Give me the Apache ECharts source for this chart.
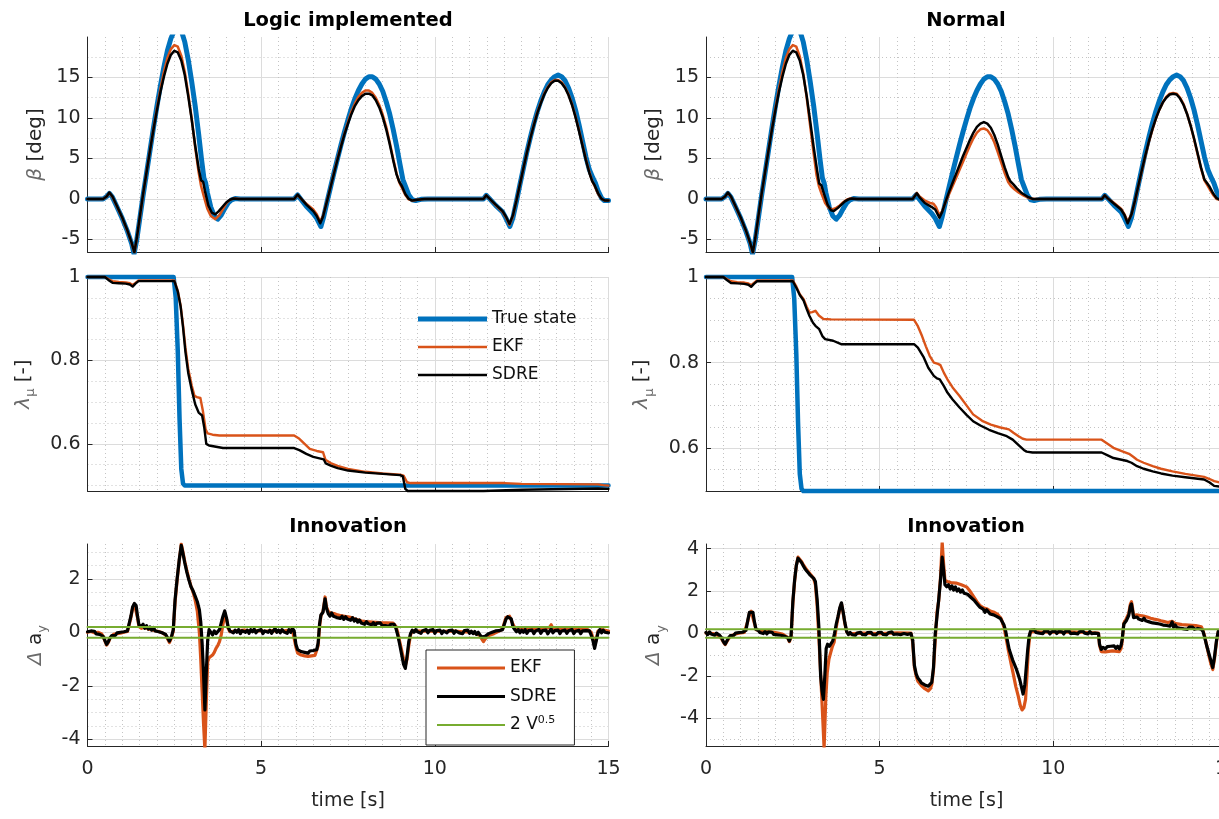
<!DOCTYPE html>
<html>
<head>
<meta charset="utf-8">
<title>Logic implemented vs Normal</title>
<script src="https://cdn.jsdelivr.net/npm/echarts@6/dist/echarts.min.js"></script>
<style>
  html, body { margin: 0; padding: 0; background: #ffffff; }
  #chart { width: 1219px; height: 819px; }
</style>
</head>
<body>
<div id="chart"></div>
<script>
// ---------- side slip angle beta [deg], pairs of [time s, value] ----------
const betaTrue = [[0,0],[0.45,0],[0.55,0.3],[0.63,0.7],[0.72,0.2],[0.85,-1.0],[1.0,-2.4],[1.15,-4.0],[1.27,-5.5],[1.34,-6.8],[1.42,-5.0],[1.5,-2.6],[1.6,0.4],[1.7,3.2],[1.8,6.0],[1.9,8.8],[2.0,11.5],[2.1,14.0],[2.2,16.3],[2.3,18.3],[2.4,19.8],[2.5,20.8],[2.6,21.2],[2.7,20.8],[2.8,19.4],[2.9,17.2],[3.0,14.5],[3.1,11.5],[3.2,8.0],[3.28,5.0],[3.35,2.6],[3.4,2.0],[3.45,0.8],[3.55,-1.0],[3.65,-2.1],[3.75,-2.5],[3.85,-2.0],[3.95,-1.2],[4.05,-0.5],[4.15,-0.1],[4.25,0.05],[4.4,0],[5.95,0],[6.05,0.5],[6.12,0.1],[6.3,-0.9],[6.5,-1.8],[6.6,-2.4],[6.72,-3.4],[6.8,-2.2],[6.9,-0.3],[7.0,1.5],[7.1,3.3],[7.2,5.0],[7.3,6.7],[7.4,8.3],[7.5,9.8],[7.6,11.2],[7.7,12.4],[7.8,13.4],[7.9,14.2],[8.0,14.8],[8.1,15.1],[8.2,15.1],[8.3,14.8],[8.4,14.2],[8.5,13.3],[8.6,12.0],[8.7,10.5],[8.8,8.6],[8.9,6.5],[9.0,4.2],[9.08,2.4],[9.15,1.6],[9.25,0.5],[9.35,-0.1],[9.45,-0.2],[9.6,-0.05],[9.8,0],[11.4,0],[11.48,0.45],[11.56,0.1],[11.75,-0.8],[11.95,-1.6],[12.05,-2.4],[12.16,-3.4],[12.25,-2.3],[12.35,-0.3],[12.45,1.8],[12.55,3.8],[12.65,5.8],[12.75,7.6],[12.85,9.3],[12.95,10.8],[13.05,12.1],[13.15,13.2],[13.25,14.1],[13.35,14.7],[13.45,15.1],[13.55,15.3],[13.65,15.1],[13.75,14.6],[13.85,13.7],[13.95,12.5],[14.05,11.0],[14.15,9.2],[14.25,7.2],[14.35,5.2],[14.45,3.6],[14.55,2.6],[14.62,2.0],[14.7,1.0],[14.8,0.1],[14.88,-0.2],[15,-0.2]];

const betaEkfLogic = [[0,0],[0.45,0],[0.55,0.3],[0.63,0.75],[0.72,0.25],[0.85,-0.95],[1.0,-2.35],[1.15,-3.95],[1.27,-5.45],[1.35,-6.7],[1.42,-4.9],[1.5,-2.5],[1.6,0.5],[1.7,3.3],[1.8,6.0],[1.9,8.7],[2.0,11.2],[2.1,13.6],[2.2,15.7],[2.3,17.4],[2.4,18.5],[2.5,19.0],[2.6,18.8],[2.7,17.7],[2.8,15.7],[2.9,13.0],[3.0,9.9],[3.1,6.4],[3.2,3.3],[3.27,1.6],[3.35,0.3],[3.45,-1.2],[3.55,-2.1],[3.68,-2.5],[3.8,-2.0],[3.92,-1.1],[4.02,-0.4],[4.12,-0.05],[4.25,0.05],[4.4,0],[5.95,0],[6.05,0.5],[6.12,0.15],[6.3,-0.6],[6.5,-1.3],[6.6,-1.9],[6.7,-2.8],[6.78,-2.1],[6.9,-0.2],[7.0,1.5],[7.1,3.3],[7.2,5.0],[7.3,6.6],[7.4,8.1],[7.5,9.5],[7.6,10.8],[7.7,11.8],[7.8,12.6],[7.9,13.1],[8.0,13.4],[8.1,13.4],[8.2,13.1],[8.3,12.5],[8.4,11.6],[8.5,10.4],[8.6,8.9],[8.7,7.0],[8.8,5.0],[8.9,3.1],[8.98,2.0],[9.05,1.4],[9.15,0.5],[9.25,-0.05],[9.35,-0.2],[9.5,-0.1],[9.7,0],[11.4,0],[11.48,0.45],[11.56,0.1],[11.75,-0.75],[11.95,-1.6],[12.05,-2.3],[12.15,-3.2],[12.25,-2.1],[12.35,-0.2],[12.45,1.8],[12.55,3.8],[12.65,5.7],[12.75,7.5],[12.85,9.2],[12.95,10.7],[13.05,11.9],[13.15,13.0],[13.25,13.8],[13.35,14.4],[13.45,14.7],[13.55,14.7],[13.65,14.4],[13.75,13.8],[13.85,12.9],[13.95,11.7],[14.05,10.2],[14.15,8.5],[14.25,6.7],[14.35,4.9],[14.45,3.3],[14.53,2.2],[14.6,1.6],[14.7,0.6],[14.8,0],[14.9,-0.2],[15,-0.2]];

const betaSdreLogic = [[0,0],[0.45,0],[0.55,0.3],[0.63,0.8],[0.72,0.3],[0.85,-0.9],[1.0,-2.3],[1.15,-3.9],[1.27,-5.4],[1.35,-6.6],[1.42,-4.8],[1.5,-2.4],[1.6,0.6],[1.7,3.3],[1.8,6.0],[1.9,8.6],[2.0,11.0],[2.1,13.2],[2.2,15.1],[2.3,16.7],[2.4,17.8],[2.5,18.3],[2.6,18.1],[2.7,17.1],[2.8,15.3],[2.9,12.7],[3.0,9.8],[3.1,6.6],[3.2,3.8],[3.27,2.3],[3.33,2.1],[3.38,1.0],[3.48,-0.8],[3.58,-1.7],[3.68,-1.9],[3.78,-1.5],[3.9,-0.9],[4.0,-0.4],[4.1,-0.1],[4.2,0.05],[4.35,0],[5.95,0],[6.05,0.55],[6.12,0.2],[6.3,-0.7],[6.5,-1.5],[6.6,-2.1],[6.7,-3.0],[6.78,-2.2],[6.9,-0.2],[7.0,1.5],[7.1,3.2],[7.2,4.9],[7.3,6.5],[7.4,8.0],[7.5,9.3],[7.6,10.5],[7.7,11.5],[7.8,12.2],[7.9,12.7],[8.0,13.0],[8.1,13.0],[8.2,12.8],[8.3,12.2],[8.4,11.3],[8.5,10.1],[8.6,8.6],[8.7,6.8],[8.8,4.8],[8.9,3.0],[8.98,2.1],[9.05,1.6],[9.15,0.6],[9.25,0.0],[9.35,-0.2],[9.5,-0.1],[9.7,0],[11.4,0],[11.48,0.45],[11.56,0.1],[11.75,-0.7],[11.95,-1.5],[12.05,-2.2],[12.15,-3.1],[12.25,-2.0],[12.35,-0.2],[12.45,1.8],[12.55,3.8],[12.65,5.7],[12.75,7.5],[12.85,9.1],[12.95,10.6],[13.05,11.8],[13.15,12.9],[13.25,13.7],[13.35,14.3],[13.45,14.6],[13.55,14.6],[13.65,14.3],[13.75,13.7],[13.85,12.8],[13.95,11.6],[14.05,10.1],[14.15,8.4],[14.25,6.6],[14.35,4.8],[14.45,3.2],[14.53,2.2],[14.6,1.7],[14.7,0.7],[14.8,0],[14.9,-0.2],[15,-0.2]];

const betaEkfNormal = [[0,0],[0.45,0],[0.55,0.3],[0.63,0.75],[0.72,0.25],[0.85,-0.95],[1.0,-2.35],[1.15,-3.95],[1.27,-5.45],[1.35,-6.7],[1.42,-4.9],[1.5,-2.5],[1.6,0.5],[1.7,3.3],[1.8,6.0],[1.9,8.7],[2.0,11.2],[2.1,13.6],[2.2,15.7],[2.3,17.4],[2.4,18.5],[2.5,19.0],[2.6,18.8],[2.7,17.6],[2.8,15.5],[2.9,12.5],[3.0,9.0],[3.1,5.6],[3.18,3.0],[3.25,1.6],[3.33,0.6],[3.43,-0.5],[3.53,-1.1],[3.63,-1.3],[3.75,-1.1],[3.85,-0.8],[3.95,-0.4],[4.05,-0.1],[4.15,0.05],[4.3,0],[5.95,0],[6.07,0.75],[6.15,0.3],[6.3,-0.2],[6.45,-0.5],[6.55,-0.6],[6.62,-1.0],[6.72,-2.0],[6.8,-1.5],[6.9,-0.4],[7.0,0.6],[7.1,1.6],[7.2,2.6],[7.3,3.6],[7.4,4.6],[7.5,5.6],[7.6,6.6],[7.7,7.5],[7.8,8.2],[7.9,8.6],[8.0,8.7],[8.1,8.5],[8.2,7.9],[8.3,7.0],[8.4,5.8],[8.5,4.5],[8.6,3.2],[8.7,2.1],[8.78,1.6],[8.88,1.2],[9.0,0.8],[9.15,0.4],[9.3,0.1],[9.45,0],[11.4,0],[11.48,0.45],[11.56,0.1],[11.75,-0.5],[11.95,-1.2],[12.05,-1.9],[12.14,-2.8],[12.25,-1.9],[12.35,-0.3],[12.45,1.6],[12.55,3.5],[12.65,5.3],[12.75,7.0],[12.85,8.5],[12.95,9.9],[13.05,11.0],[13.15,11.9],[13.25,12.6],[13.35,13.0],[13.45,13.1],[13.55,13.0],[13.65,12.5],[13.75,11.7],[13.85,10.5],[13.95,9.1],[14.05,7.4],[14.15,5.6],[14.25,3.8],[14.35,2.3],[14.42,1.8],[14.5,1.2],[14.6,0.5],[14.7,0],[14.8,-0.1],[15,-0.1]];

const betaSdreNormal = [[0,0],[0.45,0],[0.55,0.3],[0.63,0.8],[0.72,0.3],[0.85,-0.9],[1.0,-2.3],[1.15,-3.9],[1.27,-5.4],[1.35,-6.6],[1.42,-4.8],[1.5,-2.4],[1.6,0.6],[1.7,3.3],[1.8,6.0],[1.9,8.6],[2.0,11.0],[2.1,13.2],[2.2,15.1],[2.3,16.7],[2.4,17.8],[2.5,18.3],[2.6,18.1],[2.7,17.1],[2.8,15.3],[2.9,12.7],[3.0,9.6],[3.1,6.4],[3.2,3.5],[3.26,1.9],[3.32,1.7],[3.4,0.6],[3.5,-0.7],[3.6,-1.4],[3.68,-1.5],[3.8,-1.1],[3.9,-0.7],[4.0,-0.3],[4.1,-0.05],[4.2,0.05],[4.35,0],[5.95,0],[6.07,0.7],[6.15,0.2],[6.3,-0.5],[6.5,-1.0],[6.6,-1.3],[6.72,-2.3],[6.8,-1.6],[6.9,-0.3],[7.0,0.9],[7.1,2.0],[7.2,3.1],[7.3,4.2],[7.4,5.3],[7.5,6.3],[7.6,7.3],[7.7,8.2],[7.8,8.9],[7.9,9.3],[8.0,9.5],[8.1,9.3],[8.2,8.8],[8.3,7.9],[8.4,6.7],[8.5,5.3],[8.6,3.9],[8.7,2.7],[8.76,2.2],[8.85,1.8],[8.95,1.3],[9.1,0.7],[9.25,0.3],[9.4,0.0],[9.6,0],[11.4,0],[11.48,0.45],[11.56,0.1],[11.75,-0.6],[11.95,-1.3],[12.05,-2.0],[12.14,-3.0],[12.25,-1.9],[12.35,-0.2],[12.45,1.7],[12.55,3.6],[12.65,5.4],[12.75,7.1],[12.85,8.6],[12.95,9.9],[13.05,11.0],[13.15,11.9],[13.25,12.5],[13.35,12.9],[13.45,13.0],[13.55,12.9],[13.65,12.4],[13.75,11.6],[13.85,10.5],[13.95,9.1],[14.05,7.5],[14.15,5.7],[14.25,3.9],[14.35,2.4],[14.42,2.0],[14.5,1.5],[14.6,0.7],[14.7,0.1],[14.8,-0.1],[15,-0.1]];

// ---------- friction coefficient lambda_mu [-] ----------
const lambdaTrue = [[0,1],[2.48,1],[2.54,0.95],[2.6,0.82],[2.65,0.66],[2.7,0.54],[2.75,0.505],[2.8,0.5],[15,0.5]];

const lambdaEkfLogic = [[0,1.0],[0.5,1.0],[0.6,0.995],[0.72,0.99],[0.9,0.988],[1.1,0.987],[1.22,0.985],[1.3,0.981],[1.38,0.986],[1.47,0.992],[2.5,0.992],[2.6,0.967],[2.68,0.932],[2.75,0.885],[2.82,0.83],[2.9,0.78],[3.0,0.74],[3.08,0.715],[3.15,0.712],[3.25,0.71],[3.32,0.68],[3.4,0.635],[3.46,0.625],[3.6,0.622],[3.8,0.62],[5.95,0.62],[6.1,0.612],[6.25,0.6],[6.4,0.588],[6.6,0.583],[6.78,0.58],[6.85,0.562],[7.0,0.554],[7.2,0.547],[7.5,0.54],[8.0,0.533],[8.5,0.529],[9.0,0.526],[9.1,0.524],[9.2,0.508],[9.3,0.506],[12.0,0.506],[12.5,0.504],[14.7,0.503],[14.85,0.501],[15,0.5]];

const lambdaSdreLogic = [[0,1.0],[0.5,1.0],[0.6,0.993],[0.72,0.986],[0.9,0.985],[1.1,0.984],[1.22,0.982],[1.3,0.977],[1.38,0.984],[1.47,0.99],[2.5,0.99],[2.6,0.965],[2.68,0.93],[2.75,0.88],[2.82,0.82],[2.9,0.77],[3.0,0.73],[3.1,0.695],[3.2,0.675],[3.3,0.668],[3.36,0.64],[3.42,0.6],[3.5,0.596],[3.7,0.593],[3.9,0.59],[5.95,0.59],[6.1,0.585],[6.3,0.576],[6.5,0.569],[6.8,0.563],[6.86,0.553],[7.0,0.548],[7.2,0.542],[7.5,0.536],[8.0,0.531],[8.5,0.528],[9.0,0.525],[9.08,0.522],[9.15,0.492],[9.22,0.487],[11.4,0.487],[12.5,0.49],[14.7,0.493],[15,0.492]];

const lambdaEkfNormal = [[0,1.0],[0.5,1.0],[0.6,0.995],[0.72,0.99],[0.9,0.988],[1.1,0.987],[1.22,0.985],[1.3,0.981],[1.38,0.986],[1.47,0.992],[2.5,0.992],[2.6,0.978],[2.7,0.96],[2.81,0.948],[2.9,0.93],[2.98,0.917],[3.06,0.918],[3.15,0.921],[3.25,0.91],[3.38,0.902],[3.6,0.901],[5.99,0.9],[6.1,0.885],[6.22,0.862],[6.33,0.838],[6.44,0.816],[6.56,0.8],[6.68,0.797],[6.75,0.794],[6.85,0.776],[6.95,0.761],[7.1,0.742],[7.3,0.722],[7.5,0.7],[7.69,0.679],[7.95,0.664],[8.2,0.655],[8.45,0.649],[8.72,0.644],[8.85,0.636],[9.0,0.628],[9.12,0.622],[9.23,0.62],[11.39,0.62],[11.55,0.611],[11.73,0.601],[11.95,0.594],[12.18,0.587],[12.3,0.58],[12.41,0.573],[12.6,0.566],[12.86,0.558],[13.1,0.552],[13.43,0.546],[13.8,0.54],[14.34,0.533],[14.5,0.528],[14.63,0.523],[14.8,0.52],[15,0.52]];

const lambdaSdreNormal = [[0,1.0],[0.5,1.0],[0.6,0.993],[0.72,0.986],[0.9,0.985],[1.1,0.984],[1.22,0.982],[1.3,0.977],[1.38,0.984],[1.47,0.99],[2.5,0.99],[2.6,0.975],[2.7,0.958],[2.81,0.945],[2.9,0.925],[2.98,0.909],[3.08,0.893],[3.15,0.886],[3.26,0.878],[3.35,0.862],[3.43,0.855],[3.66,0.851],[3.89,0.843],[5.99,0.843],[6.1,0.835],[6.27,0.812],[6.4,0.788],[6.56,0.769],[6.65,0.763],[6.73,0.761],[6.85,0.745],[6.95,0.73],[7.1,0.714],[7.3,0.695],[7.5,0.678],[7.69,0.663],[7.9,0.653],[8.15,0.643],[8.4,0.635],[8.66,0.628],[8.83,0.62],[9.0,0.607],[9.15,0.596],[9.23,0.592],[9.4,0.59],[11.39,0.59],[11.55,0.584],[11.73,0.577],[12.13,0.57],[12.25,0.566],[12.41,0.558],[12.6,0.552],[12.86,0.546],[13.1,0.541],[13.43,0.536],[13.8,0.532],[14.34,0.527],[14.5,0.52],[14.63,0.512],[14.8,0.51],[15,0.51]];

// ---------- lateral acceleration innovation delta a_y ----------
const innovEkfLogic = [[0,0.0],[0.1,0.03],[0.2,-0.02],[0.3,0.0],[0.4,-0.05],[0.45,-0.15],[0.5,-0.32],[0.55,-0.48],[0.6,-0.38],[0.65,-0.22],[0.75,-0.08],[0.85,-0.05],[0.95,-0.03],[1.05,0.0],[1.15,0.03],[1.2,0.08],[1.25,0.55],[1.3,0.9],[1.35,1.05],[1.4,0.98],[1.44,0.55],[1.48,0.22],[1.55,0.15],[1.65,0.2],[1.75,0.12],[1.85,0.1],[1.95,0.06],[2.05,0.03],[2.15,-0.02],[2.25,-0.1],[2.3,-0.15],[2.36,-0.38],[2.42,-0.2],[2.47,0.05],[2.52,1.1],[2.58,1.95],[2.64,2.65],[2.7,3.3],[2.74,3.05],[2.8,2.65],[2.86,2.3],[2.92,2.0],[2.98,1.72],[3.04,1.5],[3.1,1.2],[3.16,0.8],[3.22,0.0],[3.26,-1.0],[3.3,-2.2],[3.34,-3.4],[3.38,-4.4],[3.42,-2.6],[3.46,-1.1],[3.5,-0.95],[3.55,-0.88],[3.6,-0.85],[3.65,-0.75],[3.7,-0.6],[3.75,-0.5],[3.8,-0.35],[3.85,-0.1],[3.9,0.3],[3.95,0.6],[4.0,0.5],[4.05,0.15],[4.1,0.02],[4.3,0.05],[4.5,0.08],[4.7,0.05],[4.9,0.06],[5.1,0.04],[5.3,0.06],[5.5,0.05],[5.7,0.06],[5.9,0.08],[5.95,0.02],[6.0,-0.55],[6.05,-0.78],[6.15,-0.85],[6.25,-0.88],[6.35,-0.9],[6.45,-0.88],[6.55,-0.86],[6.6,-0.8],[6.64,-0.5],[6.68,0.2],[6.72,0.6],[6.78,0.78],[6.84,1.32],[6.88,0.95],[6.93,0.78],[7.0,0.72],[7.1,0.7],[7.2,0.65],[7.3,0.62],[7.4,0.6],[7.5,0.58],[7.6,0.55],[7.7,0.5],[7.8,0.46],[7.9,0.42],[8.0,0.4],[8.2,0.38],[8.4,0.36],[8.6,0.35],[8.8,0.34],[8.88,0.22],[8.93,0.0],[8.98,-0.3],[9.04,-0.65],[9.1,-1.0],[9.15,-1.25],[9.2,-1.0],[9.25,-0.5],[9.3,-0.1],[9.35,0.05],[9.6,0.04],[9.9,0.05],[10.2,0.03],[10.5,0.05],[10.8,0.02],[11.1,0.0],[11.3,-0.12],[11.35,-0.25],[11.4,-0.35],[11.45,-0.25],[11.55,-0.12],[11.7,-0.05],[11.85,0.05],[11.95,0.12],[12.0,0.35],[12.05,0.55],[12.1,0.62],[12.15,0.6],[12.2,0.55],[12.25,0.3],[12.3,0.18],[12.5,0.15],[12.7,0.12],[12.9,0.15],[13.1,0.12],[13.3,0.18],[13.35,0.28],[13.4,0.14],[13.6,0.12],[13.8,0.15],[14.0,0.1],[14.2,0.12],[14.4,0.1],[14.5,0.0],[14.55,-0.2],[14.6,-0.5],[14.65,-0.25],[14.7,0.05],[14.8,0.1],[15,0.05]];

const innovSdreLogic = [[0,0.02],[0.05,-0.05],[0.1,0.05],[0.15,-0.02],[0.2,0.04],[0.25,-0.06],[0.3,0.01],[0.35,-0.08],[0.4,-0.02],[0.45,-0.15],[0.5,-0.3],[0.55,-0.45],[0.6,-0.35],[0.65,-0.2],[0.7,-0.12],[0.75,-0.05],[0.8,-0.12],[0.85,-0.02],[0.9,-0.08],[0.95,0.0],[1.0,-0.06],[1.05,0.02],[1.1,-0.04],[1.15,0.05],[1.2,0.1],[1.25,0.6],[1.3,0.95],[1.35,1.08],[1.4,1.0],[1.44,0.6],[1.48,0.28],[1.55,0.22],[1.6,0.3],[1.65,0.15],[1.7,0.25],[1.75,0.12],[1.8,0.2],[1.85,0.08],[1.9,0.18],[1.95,0.05],[2.0,0.12],[2.05,0.02],[2.1,0.08],[2.15,-0.02],[2.2,0.04],[2.25,-0.08],[2.3,-0.12],[2.36,-0.33],[2.42,-0.15],[2.47,0.1],[2.52,1.2],[2.58,2.0],[2.64,2.7],[2.7,3.25],[2.74,3.0],[2.8,2.6],[2.86,2.25],[2.92,1.95],[2.98,1.7],[3.04,1.55],[3.1,1.35],[3.16,1.15],[3.22,0.85],[3.26,0.4],[3.3,-0.4],[3.34,-1.5],[3.38,-2.9],[3.42,-1.5],[3.46,-0.3],[3.5,0.1],[3.55,0.05],[3.6,-0.1],[3.65,0.05],[3.7,-0.05],[3.75,0.0],[3.8,0.1],[3.85,0.35],[3.9,0.6],[3.95,0.8],[4.0,0.55],[4.05,0.2],[4.1,0.05],[4.15,0.1],[4.2,-0.02],[4.25,0.08],[4.3,0.0],[4.35,0.1],[4.4,-0.05],[4.45,0.06],[4.5,0.12],[4.55,0.0],[4.6,0.08],[4.65,-0.04],[4.7,0.1],[4.75,0.02],[4.8,0.12],[4.85,-0.02],[4.9,0.06],[4.95,0.0],[5.0,0.1],[5.05,-0.05],[5.1,0.05],[5.15,0.12],[5.2,0.0],[5.25,0.08],[5.3,-0.04],[5.35,0.06],[5.4,0.14],[5.45,0.0],[5.5,0.08],[5.55,-0.02],[5.6,0.1],[5.65,0.02],[5.7,0.08],[5.75,-0.04],[5.8,0.1],[5.85,0.0],[5.9,0.15],[5.95,0.05],[6.0,-0.45],[6.05,-0.65],[6.1,-0.6],[6.15,-0.72],[6.2,-0.66],[6.25,-0.75],[6.3,-0.7],[6.35,-0.78],[6.4,-0.7],[6.45,-0.76],[6.5,-0.68],[6.55,-0.75],[6.6,-0.65],[6.64,-0.4],[6.68,0.3],[6.72,0.65],[6.78,0.75],[6.84,1.25],[6.88,0.9],[6.93,0.7],[6.98,0.6],[7.03,0.72],[7.08,0.6],[7.13,0.66],[7.18,0.55],[7.23,0.62],[7.28,0.52],[7.33,0.6],[7.38,0.48],[7.43,0.58],[7.48,0.5],[7.53,0.55],[7.58,0.45],[7.63,0.55],[7.68,0.42],[7.73,0.5],[7.78,0.38],[7.83,0.46],[7.88,0.35],[7.93,0.42],[7.98,0.3],[8.03,0.4],[8.08,0.32],[8.13,0.38],[8.18,0.28],[8.23,0.36],[8.28,0.25],[8.33,0.34],[8.38,0.28],[8.43,0.35],[8.48,0.26],[8.53,0.33],[8.58,0.25],[8.63,0.3],[8.68,0.22],[8.73,0.3],[8.78,0.25],[8.83,0.3],[8.88,0.15],[8.93,-0.1],[8.98,-0.4],[9.04,-0.8],[9.1,-1.2],[9.15,-1.35],[9.2,-0.9],[9.25,-0.35],[9.3,-0.05],[9.35,0.08],[9.4,0.0],[9.45,0.1],[9.5,0.02],[9.55,0.08],[9.6,-0.04],[9.65,0.06],[9.7,0.0],[9.75,0.1],[9.8,-0.02],[9.85,0.07],[9.9,0.0],[9.95,0.1],[10.0,-0.04],[10.05,0.06],[10.1,0.0],[10.15,0.08],[10.2,-0.05],[10.25,0.05],[10.3,0.1],[10.35,-0.02],[10.4,0.06],[10.45,0.0],[10.5,0.08],[10.55,-0.04],[10.6,0.05],[10.65,0.1],[10.7,-0.02],[10.75,0.05],[10.8,-0.05],[10.85,0.06],[10.9,0.0],[10.95,0.08],[11.0,-0.04],[11.05,0.04],[11.1,-0.05],[11.15,0.03],[11.2,-0.08],[11.25,0.0],[11.3,-0.1],[11.35,-0.18],[11.4,-0.25],[11.45,-0.15],[11.5,-0.2],[11.55,-0.05],[11.6,-0.12],[11.65,0.0],[11.7,-0.06],[11.75,0.05],[11.8,-0.02],[11.85,0.06],[11.9,0.0],[11.95,0.1],[12.0,0.3],[12.05,0.5],[12.1,0.58],[12.15,0.55],[12.2,0.5],[12.25,0.2],[12.3,0.1],[12.35,0.02],[12.4,0.1],[12.45,-0.02],[12.5,0.08],[12.55,0.0],[12.6,0.1],[12.65,-0.04],[12.7,0.06],[12.75,0.0],[12.8,0.08],[12.85,-0.05],[12.9,0.05],[12.95,0.0],[13.0,0.1],[13.05,-0.04],[13.1,0.06],[13.15,0.0],[13.2,0.08],[13.25,-0.06],[13.3,0.04],[13.35,0.12],[13.4,-0.02],[13.45,0.06],[13.5,0.0],[13.55,0.08],[13.6,-0.05],[13.65,0.05],[13.7,0.0],[13.75,0.08],[13.8,-0.04],[13.85,0.06],[13.9,0.0],[13.95,0.1],[14.0,-0.05],[14.05,0.04],[14.1,0.0],[14.15,0.07],[14.2,-0.05],[14.25,0.05],[14.3,-0.02],[14.35,0.06],[14.4,0.0],[14.45,0.05],[14.5,-0.1],[14.55,-0.3],[14.6,-0.6],[14.65,-0.3],[14.7,0.0],[14.75,0.1],[14.8,-0.02],[14.85,0.08],[14.9,0.0],[14.95,0.06],[15,-0.02]];

const innovEkfNormal = [[0,0.02],[0.2,0.0],[0.4,-0.12],[0.5,-0.4],[0.55,-0.52],[0.6,-0.38],[0.7,-0.12],[0.9,0.0],[1.1,0.05],[1.15,0.12],[1.2,0.55],[1.25,0.95],[1.3,1.05],[1.35,0.98],[1.4,0.45],[1.44,0.18],[1.6,0.12],[1.8,0.1],[2.0,0.05],[2.2,-0.02],[2.35,-0.18],[2.4,-0.38],[2.45,-0.15],[2.5,1.4],[2.55,2.45],[2.6,3.2],[2.65,3.6],[2.7,3.65],[2.75,3.4],[2.8,3.25],[2.9,3.0],[3.0,2.8],[3.1,2.6],[3.15,2.3],[3.2,1.3],[3.25,-0.2],[3.3,-1.85],[3.35,-3.6],[3.4,-5.4],[3.45,-3.0],[3.49,-1.85],[3.54,-1.2],[3.59,-0.9],[3.64,-0.6],[3.69,-0.4],[3.75,0.3],[3.8,0.75],[3.85,1.15],[3.9,1.4],[3.95,0.95],[4.0,0.45],[4.05,0.08],[4.1,-0.02],[4.5,0.02],[5.0,0.0],[5.5,0.03],[5.9,0.02],[5.95,-0.4],[6.0,-1.6],[6.05,-2.0],[6.1,-2.25],[6.2,-2.45],[6.3,-2.6],[6.4,-2.7],[6.46,-2.6],[6.5,-2.4],[6.55,-1.7],[6.6,-0.3],[6.65,1.0],[6.7,1.55],[6.75,2.6],[6.8,4.3],[6.84,3.3],[6.88,2.5],[6.95,2.45],[7.05,2.4],[7.2,2.38],[7.35,2.3],[7.5,2.2],[7.6,2.0],[7.7,1.75],[7.8,1.5],[7.9,1.3],[8.0,1.2],[8.1,1.15],[8.2,1.05],[8.3,1.0],[8.4,0.9],[8.5,0.7],[8.58,0.3],[8.65,-0.3],[8.7,-0.75],[8.78,-1.4],[8.84,-1.85],[8.92,-2.5],[8.99,-2.95],[9.05,-3.4],[9.1,-3.6],[9.15,-3.5],[9.2,-3.1],[9.24,-2.0],[9.28,-0.75],[9.33,0.0],[9.38,0.1],[9.6,0.08],[10.0,0.06],[10.5,0.08],[11.0,0.05],[11.3,0.02],[11.33,-0.55],[11.38,-0.85],[11.5,-0.86],[11.7,-0.82],[11.9,-0.85],[11.95,-0.7],[11.98,-0.4],[12.03,0.5],[12.1,0.7],[12.17,0.95],[12.22,1.4],[12.25,1.5],[12.28,1.2],[12.31,0.85],[12.4,0.88],[12.5,0.85],[12.6,0.82],[12.7,0.78],[12.8,0.72],[12.9,0.68],[13.0,0.65],[13.1,0.6],[13.2,0.56],[13.3,0.52],[13.42,0.58],[13.5,0.48],[13.7,0.42],[13.9,0.4],[14.1,0.38],[14.26,0.32],[14.31,0.15],[14.36,-0.15],[14.42,-0.6],[14.48,-1.05],[14.54,-1.45],[14.59,-1.7],[14.64,-1.2],[14.7,-0.35],[14.75,0.1],[15,0.08]];

const innovSdreNormal = [[0,0.05],[0.05,-0.05],[0.1,0.08],[0.15,-0.02],[0.2,0.05],[0.25,-0.08],[0.3,0.02],[0.35,-0.05],[0.4,-0.1],[0.45,-0.2],[0.5,-0.38],[0.55,-0.5],[0.6,-0.35],[0.65,-0.2],[0.7,-0.1],[0.75,-0.02],[0.8,-0.08],[0.85,0.02],[0.9,-0.04],[0.95,0.05],[1.0,0.0],[1.05,0.06],[1.1,0.02],[1.15,0.15],[1.2,0.6],[1.25,1.0],[1.3,1.08],[1.35,1.0],[1.4,0.5],[1.44,0.2],[1.5,0.15],[1.55,0.05],[1.6,0.12],[1.65,0.0],[1.7,0.1],[1.75,-0.02],[1.8,0.08],[1.85,0.0],[1.9,0.06],[1.95,-0.04],[2.0,0.04],[2.05,-0.06],[2.1,0.02],[2.15,-0.08],[2.2,-0.02],[2.25,-0.12],[2.3,-0.1],[2.35,-0.2],[2.4,-0.35],[2.45,-0.1],[2.5,1.5],[2.55,2.5],[2.6,3.2],[2.65,3.55],[2.7,3.6],[2.75,3.35],[2.8,3.2],[2.85,3.05],[2.9,2.95],[2.95,2.85],[3.0,2.75],[3.05,2.7],[3.1,2.6],[3.15,2.45],[3.2,1.6],[3.25,0.3],[3.3,-2.0],[3.34,-2.7],[3.38,-3.1],[3.42,-2.0],[3.46,-0.7],[3.5,-0.5],[3.55,-0.6],[3.6,-0.55],[3.65,-0.35],[3.7,0.0],[3.75,0.45],[3.8,0.8],[3.85,1.2],[3.9,1.45],[3.95,1.0],[4.0,0.5],[4.05,0.1],[4.1,-0.05],[4.15,0.05],[4.2,-0.05],[4.25,0.04],[4.3,-0.08],[4.35,0.02],[4.4,-0.05],[4.45,0.06],[4.5,-0.04],[4.55,0.03],[4.6,-0.06],[4.65,0.05],[4.7,-0.02],[4.75,0.06],[4.8,-0.05],[4.85,0.03],[4.9,-0.06],[4.95,0.04],[5.0,-0.03],[5.05,0.06],[5.1,-0.04],[5.15,0.02],[5.2,-0.06],[5.25,0.04],[5.3,0.0],[5.35,0.08],[5.4,-0.04],[5.45,0.05],[5.5,-0.02],[5.55,0.06],[5.6,-0.05],[5.65,0.04],[5.7,0.0],[5.75,0.06],[5.8,-0.04],[5.85,0.05],[5.9,0.0],[5.95,-0.3],[6.0,-1.5],[6.05,-1.9],[6.1,-2.1],[6.15,-2.2],[6.2,-2.32],[6.25,-2.3],[6.3,-2.42],[6.35,-2.38],[6.4,-2.48],[6.45,-2.42],[6.5,-2.3],[6.55,-1.6],[6.6,0.0],[6.65,0.8],[6.7,1.6],[6.75,2.5],[6.8,3.6],[6.84,3.0],[6.88,2.3],[6.93,2.2],[6.98,2.3],[7.03,2.1],[7.08,2.25],[7.13,2.05],[7.18,2.2],[7.23,2.0],[7.28,2.1],[7.33,1.95],[7.38,2.05],[7.43,1.9],[7.48,1.98],[7.53,1.85],[7.58,1.88],[7.63,1.7],[7.68,1.75],[7.73,1.55],[7.78,1.5],[7.83,1.35],[7.88,1.25],[7.93,1.2],[7.98,1.15],[8.03,1.0],[8.08,1.12],[8.13,1.05],[8.18,0.92],[8.23,1.0],[8.28,0.88],[8.33,0.9],[8.38,0.8],[8.43,0.78],[8.48,0.7],[8.53,0.62],[8.58,0.4],[8.63,0.1],[8.68,-0.35],[8.73,-0.75],[8.78,-1.0],[8.83,-1.25],[8.88,-1.45],[8.93,-1.65],[8.98,-1.9],[9.03,-2.15],[9.08,-2.5],[9.13,-2.85],[9.18,-2.4],[9.22,-1.6],[9.26,-0.8],[9.3,-0.15],[9.35,0.15],[9.4,0.1],[9.45,0.18],[9.5,0.05],[9.55,0.12],[9.6,0.02],[9.65,0.1],[9.7,0.0],[9.75,0.12],[9.8,0.04],[9.85,0.1],[9.9,-0.02],[9.95,0.08],[10.0,0.02],[10.05,0.12],[10.1,0.0],[10.15,0.1],[10.2,0.02],[10.25,0.08],[10.3,-0.02],[10.35,0.1],[10.4,0.04],[10.45,0.12],[10.5,0.0],[10.55,0.08],[10.6,0.02],[10.65,0.1],[10.7,-0.02],[10.75,0.08],[10.8,0.0],[10.85,0.12],[10.9,0.02],[10.95,0.08],[11.0,-0.02],[11.05,0.1],[11.1,0.0],[11.15,0.08],[11.2,0.02],[11.25,0.1],[11.3,0.0],[11.33,-0.5],[11.38,-0.75],[11.43,-0.65],[11.5,-0.72],[11.55,-0.62],[11.6,-0.7],[11.65,-0.6],[11.7,-0.68],[11.75,-0.58],[11.8,-0.7],[11.85,-0.6],[11.9,-0.72],[11.95,-0.55],[11.98,-0.3],[12.03,0.45],[12.1,0.6],[12.17,0.85],[12.22,1.3],[12.25,1.4],[12.28,1.1],[12.31,0.75],[12.36,0.7],[12.41,0.78],[12.46,0.68],[12.51,0.75],[12.56,0.62],[12.61,0.72],[12.66,0.6],[12.71,0.68],[12.76,0.55],[12.81,0.62],[12.86,0.5],[12.91,0.58],[12.96,0.48],[13.01,0.55],[13.06,0.45],[13.11,0.5],[13.16,0.4],[13.21,0.48],[13.26,0.38],[13.31,0.45],[13.36,0.35],[13.42,0.55],[13.46,0.3],[13.51,0.4],[13.56,0.28],[13.61,0.36],[13.66,0.25],[13.71,0.32],[13.76,0.22],[13.81,0.3],[13.86,0.2],[13.91,0.3],[13.96,0.22],[14.01,0.3],[14.06,0.2],[14.11,0.28],[14.16,0.24],[14.21,0.3],[14.26,0.2],[14.31,0.1],[14.36,-0.2],[14.42,-0.6],[14.48,-0.95],[14.54,-1.3],[14.59,-1.6],[14.64,-1.1],[14.7,-0.3],[14.75,0.1],[14.8,0.05],[14.9,0.08],[15,0.05]];

// two-sigma innovation bound, 2 V^0.5
const bandTime = [0, 15];
const bandUpper = [0.2, 0.2];
const bandLower = [-0.2, -0.2];

// ---------- tick values ----------
const timeRange = [0, 15];
const betaTicks = [-5, 0, 5, 10, 15];
const betaMinor = [-2.5, 2.5, 7.5, 12.5, 17.5];
const lambdaTicks = [0.6, 0.8, 1];
const lambdaMinor = [0.5, 0.55, 0.65, 0.7, 0.75, 0.85, 0.9, 0.95];
const innovTicksLogic = [-4, -2, 0, 2];
const innovMinorLogic = [-3.5, -3, -2.5, -1.5, -1, -0.5, 0.5, 1, 1.5, 2.5, 3];
const innovTicksNormal = [-4, -2, 0, 2, 4];
const innovMinorNormal = [-5, -3, -1, 1, 3];

// ---------- styling ----------
const FONT = "'DejaVu Sans', 'Liberation Sans', sans-serif";
const INK = '#262626';
const COL = { truth: '#0072BD', ekf: '#D95319', sdre: '#000000', band: '#77AC30' };
const GRID_MAJOR = '#dcdcdc';
const GRID_MINOR = '#c4c4c4';

// panel frames (left column = logic implemented, right column = normal)
const panels = [
  { left: 87.5, top: 37,  height: 215, yMin: -6.55, yMax: 20,   ticks: betaTicks,        minor: betaMinor,        name: '{g|β} [deg]',    gap: 38, showX: false },
  { left: 706,  top: 37,  height: 215, yMin: -6.55, yMax: 20,   ticks: betaTicks,        minor: betaMinor,        name: '{g|β} [deg]',    gap: 38, showX: false },
  { left: 87.5, top: 277, height: 214, yMin: 0.487, yMax: 1.0,  ticks: lambdaTicks,      minor: lambdaMinor,      name: '{g|λ}{s|μ} [-]', gap: 50, showX: false },
  { left: 706,  top: 277, height: 214, yMin: 0.5,   yMax: 1.0,  ticks: lambdaTicks,      minor: lambdaMinor,      name: '{g|λ}{s|μ} [-]', gap: 50, showX: false },
  { left: 87.5, top: 544, height: 202, yMin: -4.25, yMax: 3.3,  ticks: innovTicksLogic,  minor: innovMinorLogic,  name: '{g|Δ} a{s|y}',   gap: 38, showX: true },
  { left: 706,  top: 544, height: 202, yMin: -5.3,  yMax: 4.22, ticks: innovTicksNormal, minor: innovMinorNormal, name: '{g|Δ} a{s|y}',   gap: 38, showX: true }
];
const PANEL_WIDTH = 521;

const nameRich = {
  g: { fontFamily: FONT, fontSize: 20, color: '#6a6a6a', fontStyle: 'italic', lineHeight: 28 },
  s: { fontFamily: FONT, fontSize: 13, color: '#6a6a6a', verticalAlign: 'bottom', lineHeight: 13 }
};

const grids = [], xAxes = [], yAxes = [];
panels.forEach((p, i) => {
  grids.push({ left: p.left, top: p.top, width: PANEL_WIDTH, height: p.height, containLabel: false, outerBoundsMode: 'none' });
  xAxes.push({
    type: 'value', gridIndex: i, min: timeRange[0], max: timeRange[1], interval: 5,
    axisLine: { show: true, onZero: false, lineStyle: { color: INK, width: 1 } },
    axisTick: { show: true, inside: true, length: 5, lineStyle: { color: INK } },
    axisLabel: { show: p.showX, margin: 14, fontFamily: FONT, fontSize: 19, color: INK },
    splitLine: { show: true, lineStyle: { color: GRID_MAJOR, width: 1 } },
    minorTick: { show: false, splitNumber: 10 },
    minorSplitLine: { show: true, lineStyle: { color: GRID_MINOR, width: 1, type: [1, 3] } },
    name: p.showX ? 'time [s]' : '', nameLocation: 'middle', nameGap: 46,
    nameTextStyle: { fontFamily: FONT, fontSize: 19, color: INK }
  });
  // labelled axis with the major grid
  yAxes.push({
    type: 'value', gridIndex: i, min: p.yMin, max: p.yMax, position: 'left',
    axisLine: { show: true, onZero: false, lineStyle: { color: INK, width: 1 } },
    axisTick: { show: true, inside: true, length: 5, customValues: p.ticks, lineStyle: { color: INK } },
    axisLabel: { show: true, customValues: p.ticks, margin: 7, fontFamily: FONT, fontSize: 19, color: INK },
    splitLine: { show: true, lineStyle: { color: GRID_MAJOR, width: 1 } },
    name: p.name, nameLocation: 'middle', nameRotate: 90, nameGap: p.gap,
    nameTextStyle: { fontFamily: FONT, fontSize: 20, color: INK, lineHeight: 28, rich: nameRich }
  });
  // companion axis carrying the dotted minor grid
  yAxes.push({
    type: 'value', gridIndex: i, min: p.yMin, max: p.yMax, position: 'left',
    axisLine: { show: false }, axisLabel: { show: false },
    axisTick: { show: false, customValues: p.minor },
    splitLine: { show: true, lineStyle: { color: GRID_MINOR, width: 1, type: [1, 3] } }
  });
});

function trace(panel, name, data, color, width, clip) {
  return {
    type: 'line', name, data, xAxisIndex: panel, yAxisIndex: panel * 2,
    symbol: 'none', showSymbol: false, clip: clip, silent: true,
    lineStyle: { color, width, cap: 'round', join: 'round' },
    itemStyle: { color }, emphasis: { disabled: true }, animation: false
  };
}
function pairs(t, v) { return t.map((x, k) => [x, v[k]]); }

const series = [
  trace(0, 'True state', betaTrue, COL.truth, 5, true),
  trace(0, 'EKF', betaEkfLogic, COL.ekf, 2.5, true),
  trace(0, 'SDRE', betaSdreLogic, COL.sdre, 2.5, true),
  trace(1, 'True state', betaTrue, COL.truth, 5, true),
  trace(1, 'EKF', betaEkfNormal, COL.ekf, 2.5, true),
  trace(1, 'SDRE', betaSdreNormal, COL.sdre, 2.5, true),
  trace(2, 'True state', lambdaTrue, COL.truth, 4.5, false),
  trace(2, 'EKF', lambdaEkfLogic, COL.ekf, 2.4, false),
  trace(2, 'SDRE', lambdaSdreLogic, COL.sdre, 2.4, false),
  trace(3, 'True state', lambdaTrue, COL.truth, 4.5, false),
  trace(3, 'EKF', lambdaEkfNormal, COL.ekf, 2.4, false),
  trace(3, 'SDRE', lambdaSdreNormal, COL.sdre, 2.4, false),
  trace(4, 'EKF', innovEkfLogic, COL.ekf, 3.2, true),
  trace(4, 'SDRE', innovSdreLogic, COL.sdre, 3.2, true),
  trace(4, '2 V^0.5', pairs(bandTime, bandUpper), COL.band, 2, true),
  trace(4, '2 V^0.5', pairs(bandTime, bandLower), COL.band, 2, true),
  trace(5, 'EKF', innovEkfNormal, COL.ekf, 3.2, true),
  trace(5, 'SDRE', innovSdreNormal, COL.sdre, 3.2, true),
  trace(5, '2 V^0.5', pairs(bandTime, bandUpper), COL.band, 2, true),
  trace(5, '2 V^0.5', pairs(bandTime, bandLower), COL.band, 2, true)
];

const titleStyle = { fontFamily: FONT, fontWeight: 'bold', fontSize: 19.5, color: '#000' };
const legendText = {
  fontFamily: FONT, fontSize: 17, color: '#111', lineHeight: 20,
  rich: { sup: { fontFamily: FONT, fontSize: 11, color: '#111', verticalAlign: 'top', lineHeight: 11 } }
};

const option = {
  animation: false,
  backgroundColor: '#ffffff',
  title: [
    { text: 'Logic implemented', left: 348, top: 11, textAlign: 'center', padding: 0, textStyle: titleStyle },
    { text: 'Normal', left: 966, top: 11, textAlign: 'center', padding: 0, textStyle: titleStyle },
    { text: 'Innovation', left: 348, top: 517, textAlign: 'center', padding: 0, textStyle: titleStyle },
    { text: 'Innovation', left: 966, top: 517, textAlign: 'center', padding: 0, textStyle: titleStyle }
  ],
  legend: [
    {
      left: 418, top: 309, orient: 'vertical', padding: 0,
      itemWidth: 69, itemHeight: 14, itemGap: 8, selectedMode: false,
      data: [
        { name: 'True state', icon: 'path://M0 0H70V5H0Z' },
        { name: 'EKF', icon: 'path://M0 0H70V2.6H0Z' },
        { name: 'SDRE', icon: 'path://M0 0H70V2.6H0Z' }
      ],
      textStyle: legendText
    },
    {
      left: 426, top: 650, orient: 'vertical', padding: [8, 18, 10, 11],
      backgroundColor: '#ffffff', borderColor: INK, borderWidth: 1,
      itemWidth: 68, itemHeight: 14, itemGap: 8.5, selectedMode: false,
      data: [
        { name: 'EKF', icon: 'path://M0 0H70V3H0Z' },
        { name: 'SDRE', icon: 'path://M0 0H70V3H0Z' },
        { name: '2 V^0.5', icon: 'path://M0 0H70V2H0Z' }
      ],
      formatter: n => (n === '2 V^0.5' ? '2 V{sup|0.5}' : n),
      textStyle: legendText
    }
  ],
  grid: grids,
  xAxis: xAxes,
  yAxis: yAxes,
  series: series
};

const chart = echarts.init(document.getElementById('chart'), null, { renderer: 'canvas' });
chart.setOption(option);
</script>
</body>
</html>
